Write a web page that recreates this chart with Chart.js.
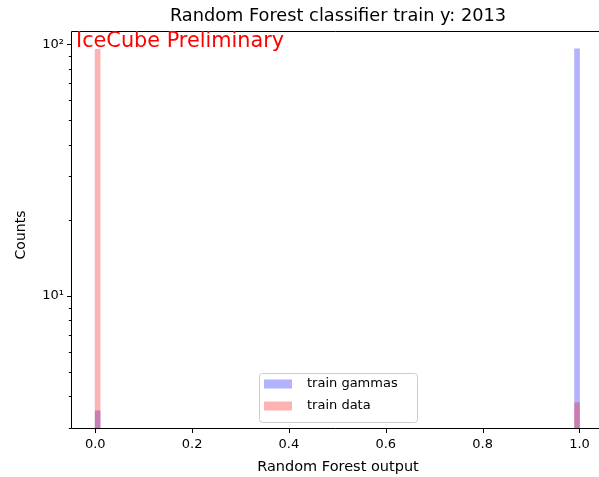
<!DOCTYPE html>
<html>
<head>
<meta charset="utf-8">
<script src="https://cdn.jsdelivr.net/npm/chart.js@4.4.0/dist/chart.umd.min.js"></script>
<style>
  html, body { margin: 0; padding: 0; background: #fff; overflow: hidden; }
  canvas { display: block; }
</style>
</head>
<body>
<canvas id="histChart" width="599" height="477"></canvas>
<script>
// histogram bins that have counts (bin width 0.01)
const binCenters = [0.005, 0.995];
const gammaCounts = [3.5, 96];
const dataCounts = [95.5, 3.77];
const seriesLabels = ["train gammas", "train data"];
const xTicks = [0.0, 0.2, 0.4, 0.6, 0.8, 1.0];
const yTicks = [3, 4, 5, 6, 7, 8, 9, 10, 20, 30, 40, 50, 60, 70, 80, 90, 100];
const yTickLabels = { 10: "10¹", 100: "10²" };

const FONT = "'DejaVu Sans', sans-serif";
const BLUE = "rgba(0, 0, 255, 0.3)";
const RED = "rgba(255, 0, 0, 0.3)";

const toPoints = vals => binCenters.map((x, i) => ({ x: x, y: vals[i] }));

// spines, tick marks, titles, annotation and legend (matplotlib style)
const extras = {
  id: "extras",
  afterDraw(chart) {
    const ctx = chart.ctx;
    const a = chart.chartArea;
    const xs = chart.scales.x, ys = chart.scales.y;
    const L = Math.round(a.left) + 0.5, T = Math.round(a.top) + 0.5, B = Math.round(a.bottom) + 0.5;
    ctx.save();

    // right spine falls just outside the picture
    ctx.strokeStyle = "#000";
    ctx.lineWidth = 1;
    ctx.beginPath();
    ctx.moveTo(chart.width, T);
    ctx.lineTo(L, T);
    ctx.lineTo(L, B);
    ctx.lineTo(chart.width, B);
    ctx.stroke();

    ctx.beginPath();
    yTicks.forEach(v => {
      const py = Math.round(ys.getPixelForValue(v)) + 0.5;
      const len = yTickLabels[v] ? 4.5 : 2.6;
      ctx.moveTo(L - len, py);
      ctx.lineTo(L, py);
    });
    xTicks.forEach(v => {
      const px = Math.round(xs.getPixelForValue(v)) + 0.5;
      ctx.moveTo(px, B);
      ctx.lineTo(px, B + 4.5);
    });
    ctx.stroke();

    const midX = 338;
    ctx.fillStyle = "#000";
    ctx.textAlign = "center";
    ctx.textBaseline = "alphabetic";
    ctx.font = "17.75px " + FONT;
    ctx.fillText("Random Forest classifier train y: 2013", midX, 20.7);
    ctx.font = "14.5px " + FONT;
    ctx.fillText("Random Forest output", midX, 471.3);
    ctx.save();
    ctx.translate(25.2, 235);
    ctx.rotate(-Math.PI / 2);
    ctx.font = "14px " + FONT;
    ctx.fillText("Counts", 0, 0);
    ctx.restore();

    ctx.fillStyle = "#ff0000";
    ctx.textAlign = "left";
    ctx.font = "20.8px " + FONT;
    ctx.fillText("IceCube Preliminary", 76, 47);

    // legend
    const bx = 259, by = 373, bw = 158, bh = 49;
    ctx.fillStyle = "rgba(255,255,255,0.8)";
    ctx.strokeStyle = "#cccccc";
    ctx.beginPath();
    ctx.roundRect(bx + 0.5, by + 0.5, bw, bh, 3);
    ctx.fill();
    ctx.stroke();
    ctx.font = "13px " + FONT;
    ctx.textBaseline = "middle";
    chart.data.datasets.forEach((ds, i) => {
      const cy = 384 + i * 22;
      ctx.fillStyle = ds.backgroundColor;
      ctx.fillRect(264, cy - 4.5, 28, 9);
      ctx.fillStyle = "#000";
      ctx.fillText(ds.label, 307, cy);
    });
    ctx.restore();
  }
};

new Chart(document.getElementById("histChart"), {
  type: "bar",
  data: {
    datasets: [
      { label: seriesLabels[0], data: toPoints(gammaCounts), backgroundColor: BLUE, order: 1 },
      { label: seriesLabels[1], data: toPoints(dataCounts), backgroundColor: RED, order: 0 }
    ]
  },
  options: {
    responsive: false,
    animation: false,
    layout: { padding: { top: 31, right: 0, left: 0, bottom: 0 } },
    datasets: { bar: { barThickness: 5, grouped: false, borderWidth: 0 } },
    plugins: { legend: { display: false }, title: { display: false }, tooltip: { enabled: false } },
    scales: {
      x: {
        type: "linear",
        offset: false,
        min: -0.05,
        max: 1.0403,
        afterBuildTicks: s => { s.ticks = xTicks.map(v => ({ value: v })); },
        afterFit: s => { s.height = 49; },
        grid: { display: false, drawTicks: false },
        border: { display: false },
        ticks: {
          callback: v => v.toFixed(1),
          color: "#000",
          padding: 9,
          maxRotation: 0,
          autoSkip: false,
          font: { family: FONT, size: 13 }
        }
      },
      y: {
        type: "logarithmic",
        min: 2.99,
        max: 113,
        afterBuildTicks: s => { s.ticks = yTicks.map(v => ({ value: v })); },
        afterFit: s => { s.width = 71; },
        grid: { display: false, drawTicks: false },
        border: { display: false },
        ticks: {
          callback: v => yTickLabels[v] || "",
          color: "#000",
          padding: 7,
          autoSkip: false,
          font: { family: FONT, size: 13 }
        }
      }
    }
  },
  plugins: [extras]
});
</script>
</body>
</html>
